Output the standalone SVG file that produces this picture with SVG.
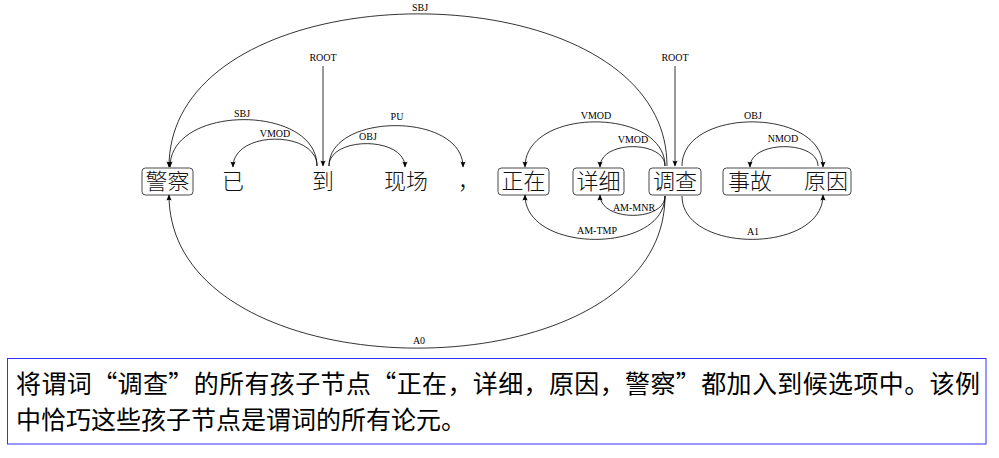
<svg xmlns="http://www.w3.org/2000/svg" width="999" height="458" viewBox="0 0 999 458">
<style>
.arc{fill:none;stroke:#000;stroke-width:0.8;marker-end:url(#ah)}
.lbl{font-family:"Liberation Serif","DejaVu Serif",serif;font-size:10px;text-anchor:middle;fill:#000}
.word{font-family:"Noto Sans CJK SC",sans-serif;font-size:22px;font-weight:300;text-anchor:middle;fill:#111}
.nb{fill:none;stroke:#333;stroke-width:0.9}
.note{font-family:"Noto Sans CJK SC",sans-serif;font-size:25px;fill:#000}
</style>
<defs>
<marker id="ah" viewBox="-7 -4 8 8" refX="0" refY="0" markerWidth="8" markerHeight="8" orient="auto" markerUnits="userSpaceOnUse">
<path d="M0.5,0 L-5.5,-2.6 Q-3.8,0 -5.5,2.6 Z" fill="#000"/>
</marker>
</defs>
<rect width="999" height="458" fill="#fff"/>

<g id="n-jingcha"><rect class="nb" x="142" y="168" width="51" height="27" rx="3.5"/><text class="word" x="167.5" y="189">警察</text></g>
<g id="n-yi"><text class="word" x="233" y="189">已</text></g>
<g id="n-dao"><text class="word" x="323" y="189">到</text></g>
<g id="n-xianchang"><text class="word" x="406" y="189">现场</text></g>
<g id="n-comma"><text class="word" x="469" y="189">，</text></g>
<g id="n-zhengzai"><rect class="nb" x="498" y="168" width="51" height="27" rx="3.5"/><text class="word" x="523.5" y="189">正在</text></g>
<g id="n-xiangxi"><rect class="nb" x="573" y="168" width="51" height="27" rx="3.5"/><text class="word" x="598.5" y="189">详细</text></g>
<g id="n-diaocha"><rect class="nb" x="649" y="168" width="52" height="27" rx="3.5"/><text class="word" x="675" y="189">调查</text></g>
<g id="n-shiguyuanyin"><rect class="nb" x="723" y="168" width="128" height="27" rx="3.5"/><text class="word" x="750" y="189">事故</text><text class="word" x="826" y="189">原因</text></g>

<g id="connectors">
<path class="arc" d="M667,166 C667,-37 169,-37 169,167"/>
<text class="lbl" x="420" y="10.5">SBJ</text>
<path class="arc" d="M323,66 L323,166"/>
<text class="lbl" x="323" y="61">ROOT</text>
<path class="arc" d="M675,66 L675,166"/>
<text class="lbl" x="675" y="61">ROOT</text>
<path class="arc" d="M317,166 C317,104 170,104 170,167"/>
<text class="lbl" x="242" y="117">SBJ</text>
<path class="arc" d="M317,166 C317,130 233,130 233,167"/>
<text class="lbl" x="275" y="137">VMOD</text>
<path class="arc" d="M329,166 C329,136 405,136 405,167"/>
<text class="lbl" x="368" y="140">OBJ</text>
<path class="arc" d="M329,166 C329,112 463,112 463,167"/>
<text class="lbl" x="397" y="120">PU</text>
<path class="arc" d="M665,166 C665,107 525,107 525,167"/>
<text class="lbl" x="596" y="119">VMOD</text>
<path class="arc" d="M665,166 C665,140 600,140 600,167"/>
<text class="lbl" x="633" y="143">VMOD</text>
<path class="arc" d="M682,166 C682,107 823,107 823,167"/>
<text class="lbl" x="753" y="119">OBJ</text>
<path class="arc" d="M818,166 C818,140 750,140 750,167"/>
<text class="lbl" x="783" y="142">NMOD</text>
<path class="arc" d="M665,196 C665,222 600,222 600,195"/>
<text class="lbl" x="634" y="211">AM-MNR</text>
<path class="arc" d="M665,196 C665,254 525,254 525,195"/>
<text class="lbl" x="597" y="234">AM-TMP</text>
<path class="arc" d="M682,196 C682,254 823,254 823,195"/>
<text class="lbl" x="753" y="235">A1</text>
<path class="arc" d="M665,196 C665,399 169,399 169,195"/>
<text class="lbl" x="419" y="344">A0</text>
</g>

<g id="note">
<rect x="7.5" y="358.5" width="978.5" height="85.5" fill="none" stroke="#3030ff" stroke-width="1"/>
<text class="note" x="16" y="393" textLength="964" lengthAdjust="spacing">将谓词“调查”的所有孩子节点“正在，详细，原因，警察”都加入到候选项中。该例</text>
<text class="note" x="16" y="429">中恰巧这些孩子节点是谓词的所有论元。</text>
</g>
</svg>
